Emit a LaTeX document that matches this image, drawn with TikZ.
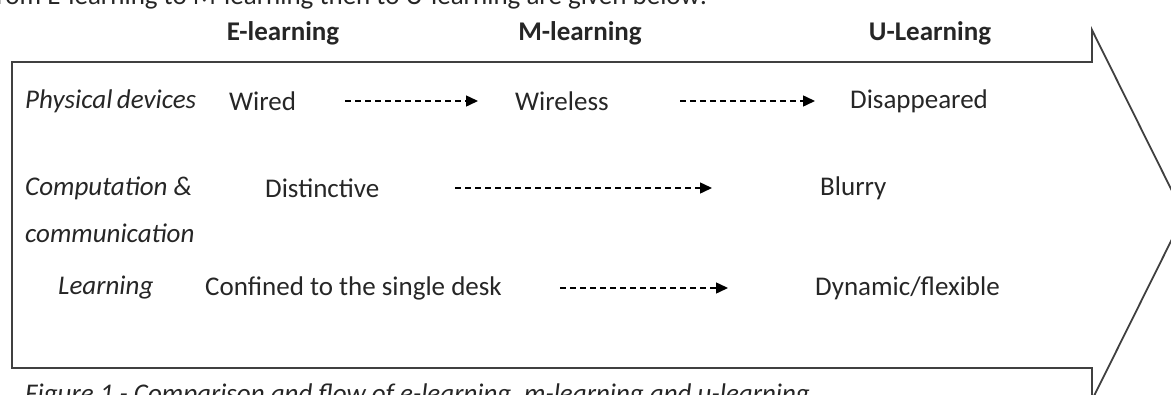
\documentclass[tikz,border=0pt]{standalone}
\usepackage{fontspec}
\setmainfont{Carlito}
\usetikzlibrary{arrows.meta}
\begin{document}
\begin{tikzpicture}[x=1pt,y=-1pt,
  body/.style={font=\fontsize{27}{30}\selectfont, text=black!85, inner sep=0pt, anchor=west},
  rowlabel/.style={body, font=\fontsize{27}{30}\selectfont\itshape},
  header/.style={font=\fontsize{27}{30}\selectfont\bfseries, text=black!85, inner sep=0pt},
  flow/.style={draw=black, line width=1.5pt, dash pattern=on 6pt off 4pt, -{Triangle[length=12pt,width=11pt]}},
  outline/.style={draw=black!75, line width=1.8pt, line join=miter}]
\useasboundingbox (0,0) rectangle (1171,394);
\clip (0,0) rectangle (1171,394);
% cut-off surrounding text
\node[body, anchor=base west] (toptext) at (-12,4) {from E-learning to M-learning then to U-learning are given below:};
\node[rowlabel, anchor=base west] (caption) at (25,402) {Figure 1 - Comparison and flow of e-learning, m-learning and u-learning};
% big arrow
\draw[outline] (12,62) -- (1092,62) -- (1092,30) -- (1184,215) -- (1092,400) -- (1092,368) -- (12,368) -- cycle;
% headers
\node[header] (hE) at (283,33) {E-learning};
\node[header] (hM) at (580,33) {M-learning};
\node[header] (hU) at (930,33) {U-Learning};
% row 1
\node[rowlabel] (phys) at (25,101) {Physical\,devices};
\node[body] (wired) at (229,101) {Wired};
\node[body] (wireless) at (515,101) {Wireless};
\node[body] (disap) at (850,101) {Disappeared};
\coordinate (a1s) at (345,101); \coordinate (a1e) at (478,101);
\coordinate (a2s) at (680,101); \coordinate (a2e) at (815,101);
\draw[flow] (a1s) -- (a1e);
\draw[flow] (a2s) -- (a2e);
% row 2
\node[rowlabel] (comp) at (25,188) {Computation \&};
\node[rowlabel] (commu) at (25,233) {communication};
\node[body] (dist) at (265,188) {Distinctive};
\node[body] (blurry) at (820,188) {Blurry};
\coordinate (a3s) at (455,188); \coordinate (a3e) at (712,188);
\draw[flow] (a3s) -- (a3e);
% row 3
\node[rowlabel] (learn) at (58,288) {Learning};
\node[body] (conf) at (205,288) {Confined to the single desk};
\node[body] (dyn) at (815,288) {Dynamic/flexible};
\coordinate (a4s) at (560,288); \coordinate (a4e) at (728,288);
\draw[flow] (a4s) -- (a4e);
\end{tikzpicture}
\end{document}
